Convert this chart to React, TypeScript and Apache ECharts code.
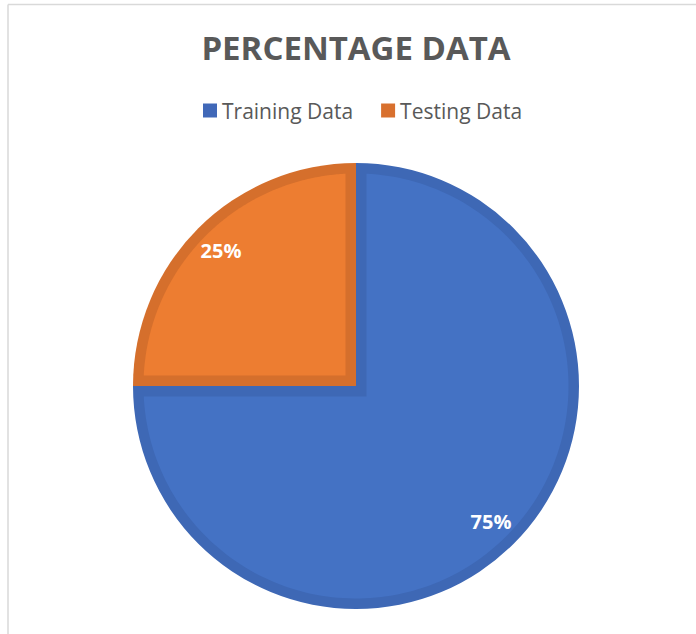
import React, { useEffect, useRef } from "react";
import * as echarts from "echarts";

// ---- data ----
const categories: string[] = ["Training Data", "Testing Data"];
const values: number[] = [75, 25];
const chartTitle = "PERCENTAGE DATA";

// ---- styles ----
const fillColors = ["#4472C4", "#ED7D31"];
const edgeColors = ["#3E68B5", "#D56F2C"];
const legendColors = ["#4068B8", "#D8702E"];
const textGray = "#595959";
const FONT = "'Open Sans', 'Noto Sans', sans-serif";

const CENTER: [number, number] = [356, 386];
const RADIUS = 223;
const EDGE = 10.5;

export default function App() {
  const ref = useRef<HTMLDivElement>(null);

  useEffect(() => {
    if (!ref.current) return;
    const chart = echarts.init(ref.current, undefined, { renderer: "svg" });

    const total = values.reduce((a, b) => a + b, 0);
    const starts: number[] = [];
    let acc = 0;
    values.forEach((v) => {
      starts.push((acc / total) * 100);
      acc += v;
    });
    const insetData = values.map((v, i) => [1, starts[i], starts[i] + (v / total) * 100, i]);

    const option: any = {
      animation: false,
      backgroundColor: "#ffffff",
      title: {
        text: chartTitle,
        left: 351,
        textAlign: "center",
        top: 26,
        textStyle: {
          fontFamily: FONT,
          fontWeight: "bold",
          fontSize: 33,
          color: textGray,
        },
      },
      legend: {
        left: 198,
        top: 95,
        icon: "rect",
        itemWidth: 14,
        itemHeight: 14,
        itemGap: 28,
        selectedMode: false,
        data: categories.map((c, i) => ({ name: c, itemStyle: { color: legendColors[i] } })),
        textStyle: { fontFamily: FONT, fontSize: 21, color: textGray },
      },
      polar: { center: CENTER, radius: RADIUS },
      angleAxis: {
        type: "value",
        min: 0,
        max: 100,
        startAngle: 90,
        clockwise: true,
        show: false,
      },
      radiusAxis: { type: "value", min: 0, max: 1, show: false },
      graphic: [
        {
          type: "line",
          shape: { x1: 8, y1: 4.5, x2: 696, y2: 4.5 },
          style: { stroke: "#d9d9d9", lineWidth: 1.5 },
          silent: true,
        },
        {
          type: "line",
          shape: { x1: 8, y1: 4.5, x2: 8, y2: 634 },
          style: { stroke: "#d9d9d9", lineWidth: 1.5 },
          silent: true,
        },
      ],
      series: [
        {
          type: "pie",
          z: 1,
          center: CENTER,
          radius: RADIUS,
          startAngle: 90,
          clockwise: true,
          silent: true,
          label: { show: false },
          labelLine: { show: false },
          itemStyle: { borderWidth: 0 },
          data: categories.map((c, i) => ({
            name: c,
            value: values[i],
            itemStyle: { color: edgeColors[i] },
          })),
        },
        {
          type: "custom",
          coordinateSystem: "polar",
          z: 2,
          silent: true,
          data: insetData,
          renderItem: (params: any, api: any) => {
            const a0 = api.value(1) as number;
            const a1 = api.value(2) as number;
            const idx = api.value(3) as number;
            const c = api.coord([0, a0]);
            const p = api.coord([1, a0]);
            const R = Math.hypot(p[0] - c[0], p[1] - c[1]);
            const inner = R - EDGE;
            const dv = (Math.asin(EDGE / inner) / (2 * Math.PI)) * 100;
            const half = ((a1 - a0) / 100) * Math.PI;
            const vDist = EDGE / Math.sin(half);
            const am = (a0 + a1) / 2;
            const pts: number[][] = [api.coord([vDist / R, am])];
            const from = a0 + dv;
            const to = a1 - dv;
            const n = 180;
            for (let k = 0; k <= n; k++) {
              const a = from + ((to - from) * k) / n;
              pts.push(api.coord([inner / R, a]));
            }
            return {
              type: "polygon",
              shape: { points: pts },
              style: { fill: fillColors[idx], stroke: null },
            };
          },
        },
        {
          type: "pie",
          z: 3,
          center: CENTER,
          radius: [152, 224],
          startAngle: 90,
          clockwise: true,
          silent: true,
          itemStyle: { color: "transparent", borderWidth: 0 },
          label: {
            show: true,
            position: "inside",
            formatter: "{d}%",
            color: "#ffffff",
            fontFamily: FONT,
            fontWeight: "bold",
            fontSize: 20,
          },
          labelLine: { show: false },
          data: categories.map((c, i) => ({ name: c, value: values[i] })),
        },
      ],
    };

    chart.setOption(option);
    return () => chart.dispose();
  }, []);

  return (
    <div
      ref={ref}
      style={{ position: "absolute", left: 0, top: 0, width: 696, height: 634, background: "#fff" }}
    />
  );
}
